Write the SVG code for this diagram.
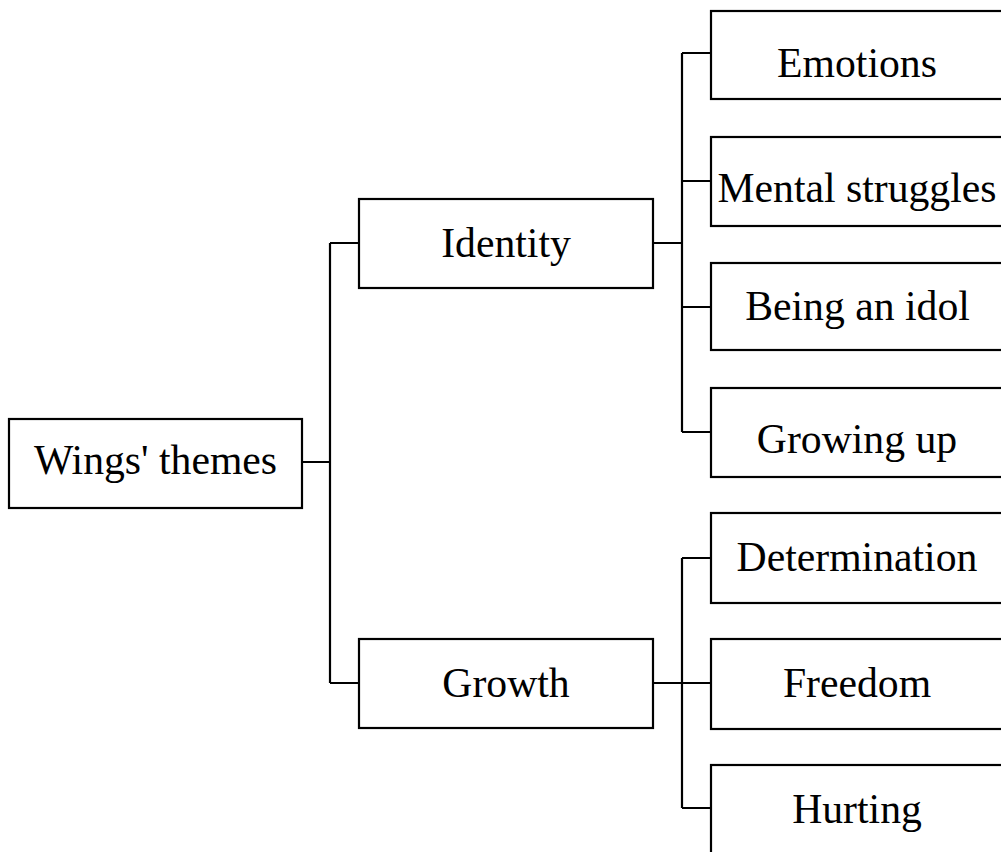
<svg xmlns="http://www.w3.org/2000/svg" width="1001" height="852" viewBox="0 0 1001 852">
<style>
.box{fill:#fff;stroke:#000;stroke-width:2.2}
.lbl{font-family:"Liberation Serif","Times New Roman",serif;font-size:41.7px;fill:#000;text-anchor:middle}
.con{fill:none;stroke:#000;stroke-width:2.2}
</style>
<rect width="1001" height="852" fill="#fff"/>
<g id="connectors">
<path class="con" d="M302,462 H330 M330,243 V683 M330,243 H359 M330,683 H359"/>
<path class="con" d="M653,243 H682 M682,53 V432 M682,53 H711 M682,181 H711 M682,307 H711 M682,432 H711"/>
<path class="con" d="M653,683 H682 M682,558 V808 M682,558 H711 M682,683 H711 M682,808 H711"/>
</g>
<g id="root"><rect class="box" x="9" y="419" width="293" height="89"/><text class="lbl" x="155.5" y="474">Wings' themes</text></g>
<g id="identity"><rect class="box" x="359" y="199" width="294" height="89"/><text class="lbl" x="506" y="257">Identity</text></g>
<g id="growth"><rect class="box" x="359" y="639" width="294" height="89"/><text class="lbl" x="506" y="697">Growth</text></g>
<g id="emotions"><rect class="box" x="711" y="11" width="300" height="88"/><text class="lbl" x="857" y="77">Emotions</text></g>
<g id="mental"><rect class="box" x="711" y="137" width="300" height="89"/><text class="lbl" x="857" y="202">Mental struggles</text></g>
<g id="idol"><rect class="box" x="711" y="263" width="300" height="87"/><text class="lbl" x="857.5" y="320">Being an idol</text></g>
<g id="growingup"><rect class="box" x="711" y="388" width="300" height="89"/><text class="lbl" x="857" y="453">Growing up</text></g>
<g id="determination"><rect class="box" x="711" y="513" width="300" height="90"/><text class="lbl" x="857" y="571">Determination</text></g>
<g id="freedom"><rect class="box" x="711" y="639" width="300" height="90"/><text class="lbl" x="857" y="697">Freedom</text></g>
<g id="hurting"><rect class="box" x="711" y="765" width="300" height="100"/><text class="lbl" x="857" y="823">Hurting</text></g>
</svg>
